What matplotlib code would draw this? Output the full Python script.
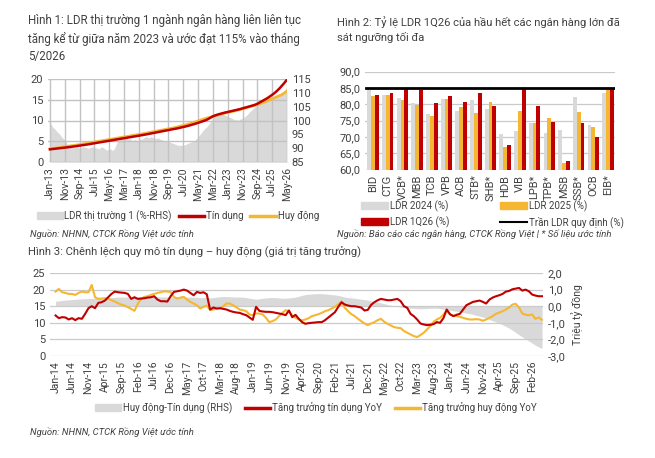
import numpy as np
import matplotlib.pyplot as plt
from matplotlib.patches import Patch
from matplotlib.lines import Line2D

plt.rcParams['font.family'] = ['Roboto', 'DejaVu Sans']

GREY = '#d9d9d9'
GRID = '#cacaca'
GRID1 = '#c2c2c2'
RED = '#c00000'
GOLD = '#f5b731'
TXT = '#404040'

# ---------------- Hinh 1 data (monthly Jan-13 .. May-26) ----------------
h1_ticks = ['Jan-13', 'Nov-13', 'Sep-14', 'Jul-15', 'May-16', 'Mar-17', 'Jan-18', 'Nov-18',
            'Sep-19', 'Jul-20', 'May-21', 'Mar-22', 'Jan-23', 'Nov-23', 'Sep-24', 'Jul-25', 'May-26']
h1_ldr = [99.0, 98.5, 97.5, 97.2, 96.5, 95.8, 95.4, 94.8, 94.0, 93.6, 93.0, 92.4,
          90.8, 90.5, 90.6, 90.3, 90.2, 90.5, 90.6, 90.4, 90.0, 90.2, 90.5, 90.6,
          90.4, 90.2, 90.0, 90.3, 90.5, 90.6, 90.4, 90.2, 90.0, 89.8, 90.2, 90.5,
          90.3, 89.8, 89.5, 89.4, 89.6, 89.8, 89.3, 89.5, 90.5, 91.8, 92.8, 93.0,
          93.2, 93.4, 93.6, 93.4, 93.6, 93.2, 93.4, 93.0, 92.8, 93.2, 93.0, 92.8,
          93.0, 93.4, 93.2, 93.6, 94.0, 94.2, 94.0, 93.8, 94.2, 94.0, 93.8, 93.6,
          93.6, 93.8, 93.4, 93.2, 93.0, 92.8, 92.6, 92.4, 92.6, 92.2, 92.0, 91.8,
          91.6, 91.4, 91.2, 91.0, 91.2, 91.0, 91.3, 91.2, 91.5, 91.8, 92.0, 92.2,
          92.4, 92.6, 93.0, 93.6, 94.2, 94.8, 95.5, 96.2, 96.8, 97.4, 97.8, 98.5,
          99.2, 100.0, 100.8, 101.4, 101.8, 102.4, 102.6, 102.8, 102.5, 102.2, 102.0, 101.8,
          101.5, 101.2, 101.0, 100.8, 100.4, 100.2, 100.3, 100.0, 100.4, 100.6, 100.8, 101.2,
          101.5, 102.0, 102.6, 103.2, 103.6, 104.2, 104.8, 105.2, 105.6, 106.0, 106.4, 106.8,
          107.0, 107.2, 107.4, 107.6, 107.8, 108.0, 108.2, 108.4, 108.6, 108.8, 109.0, 109.2,
          109.4, 109.6, 109.8, 110.0, 110.2]
h1_credit = [3.10, 3.14, 3.18, 3.22, 3.26, 3.30, 3.34, 3.38, 3.42, 3.46, 3.50, 3.54,
             3.58, 3.63, 3.68, 3.73, 3.78, 3.83, 3.88, 3.93, 3.98, 4.03, 4.08, 4.13,
             4.19, 4.25, 4.31, 4.37, 4.43, 4.49, 4.55, 4.61, 4.67, 4.73, 4.79, 4.85,
             4.90, 4.96, 5.02, 5.08, 5.14, 5.20, 5.26, 5.32, 5.38, 5.44, 5.50, 5.56,
             5.62, 5.68, 5.74, 5.80, 5.86, 5.92, 5.98, 6.04, 6.10, 6.16, 6.22, 6.28,
             6.34, 6.40, 6.47, 6.54, 6.61, 6.68, 6.75, 6.82, 6.89, 6.96, 7.03, 7.10,
             7.17, 7.24, 7.31, 7.38, 7.45, 7.52, 7.59, 7.66, 7.73, 7.80, 7.86, 7.92,
             7.98, 8.05, 8.12, 8.20, 8.28, 8.36, 8.44, 8.52, 8.60, 8.70, 8.80, 8.90,
             9.00, 9.10, 9.20, 9.32, 9.44, 9.56, 9.68, 9.80, 9.92, 10.05, 10.20, 10.40,
             10.60, 10.80, 11.00, 11.15, 11.28, 11.40, 11.50, 11.60, 11.70, 11.80, 11.88, 11.96,
             12.04, 12.12, 12.20, 12.28, 12.36, 12.44, 12.52, 12.60, 12.70, 12.80, 12.90, 13.00,
             13.10, 13.20, 13.30, 13.40, 13.50, 13.60, 13.70, 13.85, 14.00, 14.20, 14.40, 14.60,
             14.80, 15.00, 15.20, 15.40, 15.65, 15.90, 16.15, 16.40, 16.70, 17.00, 17.35, 17.70,
             18.10, 18.50, 18.90, 19.35, 19.80]
h1_deposit = [3.20, 3.25, 3.30, 3.35, 3.40, 3.45, 3.50, 3.56, 3.62, 3.68, 3.74, 3.80,
              3.84, 3.88, 3.92, 3.96, 4.00, 4.06, 4.12, 4.18, 4.24, 4.30, 4.36, 4.42,
              4.48, 4.54, 4.60, 4.66, 4.72, 4.78, 4.84, 4.90, 4.96, 5.02, 5.08, 5.14,
              5.20, 5.26, 5.32, 5.38, 5.44, 5.50, 5.56, 5.62, 5.68, 5.74, 5.80, 5.86,
              5.92, 5.98, 6.04, 6.10, 6.16, 6.22, 6.28, 6.34, 6.40, 6.46, 6.52, 6.58,
              6.64, 6.70, 6.77, 6.84, 6.91, 6.98, 7.05, 7.12, 7.19, 7.26, 7.33, 7.40,
              7.47, 7.54, 7.61, 7.68, 7.75, 7.82, 7.89, 7.96, 8.03, 8.10, 8.15, 8.20,
              8.28, 8.37, 8.46, 8.55, 8.64, 8.73, 8.82, 8.91, 9.00, 9.10, 9.20, 9.30,
              9.42, 9.54, 9.66, 9.78, 9.90, 10.02, 10.14, 10.26, 10.38, 10.48, 10.58, 10.68,
              10.78, 10.88, 10.98, 11.08, 11.18, 11.28, 11.38, 11.48, 11.58, 11.68, 11.76, 11.84,
              11.92, 12.00, 12.08, 12.16, 12.24, 12.32, 12.40, 12.50, 12.60, 12.70, 12.80, 12.90,
              13.00, 13.10, 13.20, 13.30, 13.40, 13.50, 13.60, 13.70, 13.80, 13.92, 14.04, 14.16,
              14.30, 14.45, 14.60, 14.75, 14.90, 15.05, 15.20, 15.35, 15.50, 15.65, 15.80, 15.95,
              16.10, 16.30, 16.55, 16.80, 17.10]

# ---------------- Hinh 2 data ----------------
banks = ['BID', 'CTG', 'VCB*', 'MBB', 'TCB', 'VPB', 'ACB', 'STB*', 'SHB*', 'HDB',
         'VIB', 'LPB*', 'TPB*', 'MSB', 'SSB*', 'OCB', 'EIB*']
ldr_2024 = [84.4, 82.9, 81.8, 80.5, 76.9, 81.5, 78.0, 81.3, 78.5, 70.8,
            71.8, 74.2, 71.1, 72.1, 82.3, 73.6, 83.4]
ldr_2025 = [82.6, 82.9, 81.3, 79.8, 76.4, 81.7, 79.1, 77.4, 80.8, 66.8,
            78.1, 74.2, 75.7, 61.9, 77.8, 73.0, 84.9]
ldr_1q26 = [82.9, 83.4, 84.9, 84.4, 80.5, 82.6, 80.8, 83.4, 79.5, 67.6,
            84.9, 79.5, 74.7, 62.8, 74.2, 70.0, 85.1]
ldr_cap = 85.0
h2_yticks = [60, 65, 70, 75, 80, 85, 90]
h2_ylabels = ['60,0', '65,0', '70,0', '75,0', '80,0', '85,0', '90,0']

# ---------------- Hinh 3 data (monthly Jan-14 .. May-26) ----------------
h3_ticks = ['Jan-14', 'Jun-14', 'Nov-14', 'Apr-15', 'Sep-15', 'Feb-16', 'Jul-16', 'Dec-16',
            'May-17', 'Oct-17', 'Mar-18', 'Aug-18', 'Jan-19', 'Jun-19', 'Nov-19', 'Apr-20',
            'Sep-20', 'Feb-21', 'Jul-21', 'Dec-21', 'May-22', 'Oct-22', 'Mar-23', 'Aug-23',
            'Jan-24', 'Jun-24', 'Nov-24', 'Apr-25', 'Sep-25', 'Feb-26']
credit_yoy = [12.2, 11.4, 11.7, 11.6, 11.0, 11.4, 10.8, 11.4, 11.2, 12.7, 14.4, 15.0,
              14.4, 16.0, 16.2, 16.7, 17.7, 18.7, 19.4, 19.2, 19.1, 19.0, 18.7, 17.2,
              17.7, 17.2, 17.3, 17.4, 17.6, 17.7, 18.0, 17.0, 16.5, 16.5, 16.4, 18.0,
              19.3, 19.5, 19.7, 20.0, 19.7, 19.0, 18.3, 19.3, 19.0, 19.2, 18.6, 14.0,
              14.6, 14.3, 14.4, 14.2, 14.0, 13.6, 13.3, 13.1, 13.0, 12.6, 12.3, 11.6,
              10.9, 14.8, 13.6, 13.4, 13.3, 13.3, 13.2, 13.0, 12.8, 12.6, 12.3, 13.7,
              11.7, 12.4, 11.2, 10.2, 9.7, 9.9, 10.0, 10.1, 10.2, 10.2, 10.8, 11.6,
              12.4, 13.2, 14.8, 16.2, 15.5, 15.2, 15.0, 15.0, 14.8, 14.6, 13.7, 13.9,
              15.4, 16.2, 16.8, 17.2, 17.0, 16.8, 16.8, 17.0, 17.2, 16.5, 15.0, 14.5,
              12.7, 12.0, 11.0, 9.8, 9.5, 9.3, 9.4, 9.6, 10.2, 10.0, 11.4, 14.0,
              12.6, 12.0, 12.4, 12.7, 14.0, 15.3, 15.8, 16.3, 16.5, 16.7, 16.3, 15.8,
              17.0, 17.6, 18.0, 18.3, 18.7, 19.4, 19.6, 20.1, 20.3, 20.5, 19.7, 20.0,
              19.5, 18.5, 18.2, 18.0, 18.0]
deposit_yoy = [19.4, 20.2, 19.2, 19.0, 18.7, 18.7, 18.4, 19.0, 19.4, 19.2, 19.2, 21.4,
               17.7, 17.2, 17.3, 17.4, 17.2, 16.8, 16.4, 15.9, 15.5, 15.2, 14.7, 14.2,
               13.6, 15.7, 17.2, 17.8, 18.0, 18.4, 18.7, 19.0, 19.2, 19.5, 19.4, 19.3,
               17.8, 17.3, 17.6, 17.8, 17.0, 16.3, 15.8, 15.3, 14.3, 14.8, 15.2, 13.9,
               14.0, 14.3, 14.3, 15.0, 15.8, 15.8, 15.3, 14.7, 14.0, 13.8, 13.5, 12.5,
               12.3, 12.8, 12.8, 12.5, 11.5, 10.2, 10.5, 11.0, 12.0, 13.0, 13.8, 13.5,
               12.2, 11.5, 11.0, 10.7, 11.0, 11.4, 12.0, 12.3, 12.6, 13.0, 13.5, 13.8,
               14.3, 14.8, 15.6, 16.4, 14.5, 13.5, 12.6, 12.0, 11.2, 10.5, 9.8, 9.3,
               9.8, 10.2, 10.8, 11.2, 10.3, 9.7, 9.2, 8.7, 8.5, 8.4, 7.5, 7.0,
               6.5, 6.0, 5.7, 6.3, 7.0, 8.0, 9.0, 10.3, 11.0, 11.5, 12.5, 13.7,
               12.5, 12.2, 12.0, 11.8, 11.5, 11.2, 11.0, 11.0, 11.1, 11.0, 10.6, 11.0,
               11.5, 12.0, 12.7, 13.1, 13.5, 14.0, 14.6, 15.5, 15.7, 14.6, 12.8, 12.4,
               12.3, 12.5, 11.2, 11.6, 10.9]
gap_rhs = [0.30, 0.32, 0.35, 0.37, 0.38, 0.40, 0.42, 0.43, 0.44, 0.45, 0.46, 0.47,
           0.48, 0.50, 0.50, 0.52, 0.52, 0.53, 0.54, 0.55, 0.55, 0.55, 0.56, 0.56,
           0.56, 0.56, 0.57, 0.57, 0.58, 0.58, 0.58, 0.57, 0.56, 0.56, 0.55, 0.55,
           0.55, 0.55, 0.56, 0.55, 0.55, 0.55, 0.54, 0.53, 0.52, 0.52, 0.52, 0.50,
           0.52, 0.55, 0.57, 0.58, 0.58, 0.57, 0.56, 0.55, 0.55, 0.54, 0.52, 0.48,
           0.45, 0.42, 0.45, 0.48, 0.50, 0.52, 0.52, 0.52, 0.50, 0.48, 0.48, 0.50,
           0.52, 0.55, 0.60, 0.65, 0.70, 0.72, 0.74, 0.75, 0.76, 0.75, 0.74, 0.72,
           0.70, 0.68, 0.65, 0.60, 0.55, 0.52, 0.50, 0.48, 0.45, 0.42, 0.40, 0.36,
           0.32, 0.28, 0.25, 0.20, 0.15, 0.10, 0.06, 0.02, -0.02, -0.05, -0.08, -0.10,
           -0.12, -0.13, -0.15, -0.16, -0.15, -0.14, -0.13, -0.12, -0.12, -0.15, -0.18, -0.22,
           -0.25, -0.28, -0.30, -0.33, -0.38, -0.42, -0.45, -0.50, -0.55, -0.60, -0.65, -0.72,
           -0.80, -0.88, -0.95, -1.02, -1.12, -1.22, -1.32, -1.45, -1.58, -1.72, -1.85, -1.98,
           -2.10, -2.22, -2.35, -2.45, -2.55]
h3_rticks = [-3, -2, -1, 0, 1, 2]
h3_rlabels = ['-3,0', '-2,0', '-1,0', '0,0', '1,0', '2,0']

W, H = 655, 458
fig = plt.figure(figsize=(W / 100, H / 100), dpi=100)


def box(x0, y0, x1, y1):
    # pixel box (top-left origin) -> figure fraction rect
    return [x0 / W, 1 - y1 / H, (x1 - x0) / W, (y1 - y0) / H]


def fy(y):
    return 1 - y / H


def clean(ax):
    for s in ax.spines.values():
        s.set_visible(False)
    ax.tick_params(length=0, colors=TXT, labelsize=7.5)


# ======================= Hinh 1 =======================
fig.text(28 / W, fy(14), 'Hình 1: LDR thị trường 1 ngành ngân hàng liên liên tục\n'
         'tăng kể từ giữa năm 2023 và ước đạt 115% vào tháng\n5/2026',
         fontsize=8.3, color=TXT, va='top', ha='left', linespacing=1.45)

x1 = np.arange(len(h1_credit))
a1 = fig.add_axes(box(48, 78.7, 287, 162.3))   # lines, left axis, grid
a1f = a1.twinx()                                 # LDR area, right axis
a1.set_zorder(a1f.get_zorder() + 1)
a1.patch.set_visible(False)
a1f.fill_between(x1, 85, h1_ldr, color=GREY, lw=0)
a1f.set_ylim(85, 115)
a1f.set_yticks([85, 90, 95, 100, 105, 110, 115])
a1.plot(x1, h1_deposit, color=GOLD, lw=2, zorder=3)
a1.plot(x1, h1_credit, color=RED, lw=1.8, zorder=3)
a1.set_ylim(0, 20)
a1.set_yticks([0, 5, 10, 15, 20])
a1.set_xlim(-1.3, 160)
a1.set_xticks(np.arange(0, len(h1_credit), 10))
a1.set_xticklabels(h1_ticks, rotation=90)
a1.set_axisbelow(False)
a1.grid(True, color=GRID1, lw=1.0)
clean(a1)
clean(a1f)
a1.tick_params(labelsize=8)
a1.tick_params(axis='x', labelsize=7.5)
a1f.tick_params(axis='y', labelsize=8)

fig.legend(handles=[Patch(color=GREY, label='LDR thị trường 1 (%-RHS)'),
                    Line2D([], [], color=RED, lw=2.5, label='Tín dụng'),
                    Line2D([], [], color=GOLD, lw=2.5, label='Huy động')],
           loc='center', bbox_to_anchor=(178 / W, fy(216)), ncol=3, frameon=False,
           fontsize=7, handlelength=2.6, handletextpad=0.2, columnspacing=0.7,
           labelcolor=TXT)
fig.text(30 / W, fy(234), 'Nguồn: NHNN, CTCK Rồng Việt ước tính', fontsize=6.8,
         style='italic', color=TXT, va='center')

# ======================= Hinh 2 =======================
fig.text(337 / W, fy(16), 'Hình 2: Tỷ lệ LDR 1Q26 của hầu hết các ngân hàng lớn đã\n'
         'sát ngưỡng tối đa', fontsize=8.1, color=TXT, va='top', ha='left', linespacing=1.45)

a2 = fig.add_axes(box(365, 71.7, 615, 169.7))
xb = np.arange(len(banks))
bw = 0.26
a2.bar(xb - bw, ldr_2024, bw, color=GREY, zorder=2)
a2.bar(xb, ldr_2025, bw, color=GOLD, zorder=2)
a2.bar(xb + bw, ldr_1q26, bw, color=RED, zorder=2)
a2.plot([xb[0] - 0.45, xb[-1] + 0.45], [ldr_cap, ldr_cap], color='black', lw=2, zorder=3)
a2.set_ylim(60, 90)
a2.set_yticks(h2_yticks)
a2.set_yticklabels(h2_ylabels)
a2.set_xlim(-0.55, len(banks) - 0.52)
a2.set_xticks(xb)
a2.set_xticklabels(banks, rotation=90)
a2.grid(True, axis='y', color=GRID, lw=0.9, zorder=0)
a2.set_axisbelow(True)
clean(a2)
a2.tick_params(labelsize=8)

fig.legend(handles=[Patch(color=GREY, label='LDR 2024 (%)'),
                    Patch(color=RED, label='LDR 1Q26 (%)'),
                    Patch(color=GOLD, label='LDR 2025 (%)'),
                    Line2D([], [], color='black', lw=1.5, label='Trần LDR quy định (%)')],
           loc='center left', bbox_to_anchor=(352 / W, fy(214)), ncol=2, frameon=False,
           fontsize=7, handlelength=2.8, handletextpad=0.2, columnspacing=5.2,
           labelspacing=0.45, labelcolor=TXT)
fig.text(337 / W, fy(234), 'Nguồn: Báo cáo các ngân hàng, CTCK Rồng Việt | * Số liệu ước tính',
         fontsize=6.8, style='italic', color=TXT, va='center')

# ======================= Hinh 3 =======================
fig.text(28 / W, fy(252), 'Hình 3: Chênh lệch quy mô tín dụng – huy động (giá trị tăng trưởng)',
         fontsize=8.1, color=TXT, va='center', ha='left')

x3 = np.arange(len(credit_yoy))
a3r = fig.add_axes(box(50, 273, 543, 356))
a3 = a3r.twinx()
a3r.yaxis.tick_right()
a3.yaxis.tick_left()
a3r.fill_between(x3, 0, gap_rhs, color=GREY, lw=0)
a3r.set_ylim(-3, 2)
a3r.set_yticks(h3_rticks)
a3r.set_yticklabels(h3_rlabels)
a3r.set_ylabel('Triệu tỷ đồng', color=TXT, fontsize=7.5, labelpad=4)
a3r.yaxis.set_label_position('right')
a3.plot(x3, deposit_yoy, color=GOLD, lw=1.5)
a3.plot(x3, credit_yoy, color=RED, lw=1.5)
a3.set_ylim(0, 25)
a3.set_yticks([0, 5, 10, 15, 20, 25])
a3.set_xlim(-1.7, 148.3)
a3.yaxis.grid(True, color=GRID, lw=0.9)
a3r.set_xticks(np.arange(0, len(credit_yoy), 5))
a3r.set_xticklabels(h3_ticks, rotation=90)
clean(a3)
clean(a3r)
a3.tick_params(labelsize=8)
a3r.tick_params(axis='y', labelsize=8)

fig.legend(handles=[Patch(color=GREY, label='Huy động-Tín dụng (RHS)'),
                    Line2D([], [], color=RED, lw=2.5, label='Tăng trưởng tín dụng YoY'),
                    Line2D([], [], color=GOLD, lw=2.5, label='Tăng trưởng huy động YoY')],
           loc='center', bbox_to_anchor=(316 / W, fy(408)), ncol=3, frameon=False,
           fontsize=7, handlelength=2.6, handletextpad=0.2, columnspacing=1.3,
           labelcolor=TXT)
fig.text(30 / W, fy(432), 'Nguồn: NHNN, CTCK Rồng Việt ước tính', fontsize=6.8,
         style='italic', color=TXT, va='center')

fig.savefig('out.png', dpi=100, facecolor='white')
